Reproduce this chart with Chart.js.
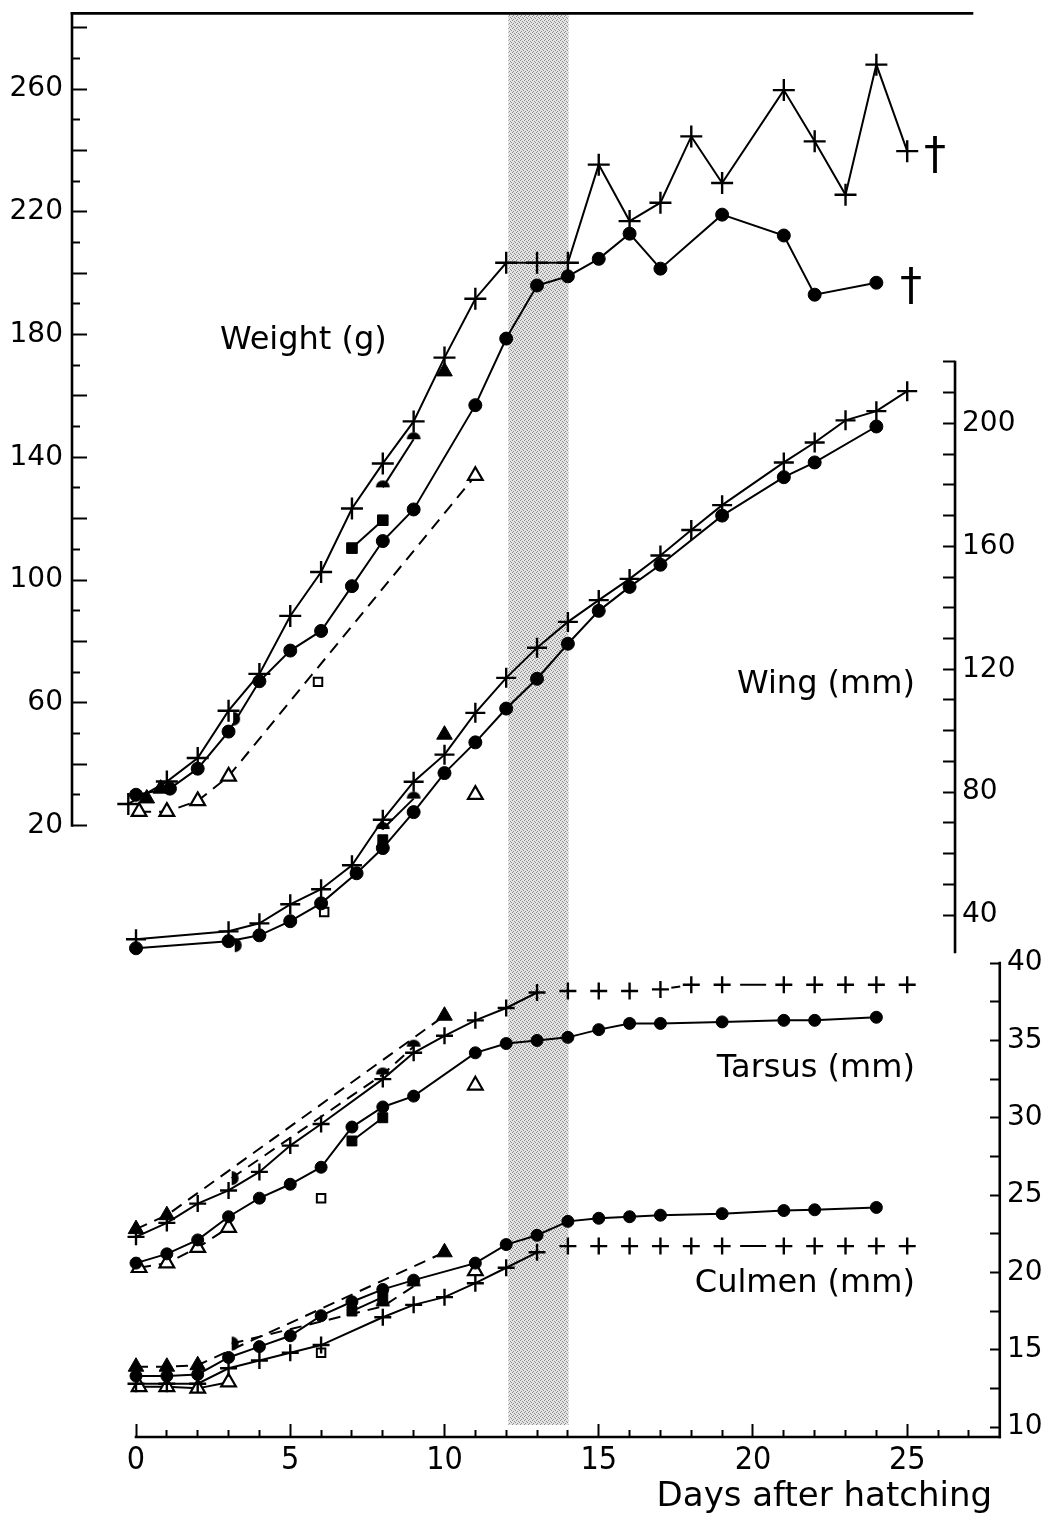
<!DOCTYPE html>
<html>
<head>
<meta charset="utf-8">
<title>Nestling growth</title>
<script src="https://cdn.jsdelivr.net/npm/chart.js@4.4.1/dist/chart.umd.min.js"></script>
<style>
  html, body { margin: 0; padding: 0; background: #fff; }
  #chart { display: block; }
</style>
</head>
<body>
<canvas id="chart" width="1042" height="1517"></canvas>
<script>
// ---- values (x = days after hatching) ----

// Weight (g)
const wPlusDays = [-0.25, 1, 2, 3, 4, 5, 6, 7, 8, 9, 10, 11, 12, 13, 14, 15, 16, 17, 18, 19, 21, 22, 23, 24, 25];
const wPlus     = [27, 34.3, 42, 57.4, 69.4, 88.3, 102.6, 123.3, 138, 151.7, 172.5, 191.7, 203.4, 203.4, 203.4, 235.4, 217, 223, 244.6, 229.4, 259.7, 243, 225.6, 268, 239.8];
const wDotDays  = [0, 1.1, 2, 3, 4, 5, 6, 7, 8, 9, 11, 12, 13, 14, 15, 16, 17, 19, 21, 22, 24];
const wDot      = [30, 32, 38.5, 50.6, 67, 77, 83.4, 98, 112.7, 123, 157, 178.7, 196, 199, 204.7, 212.9, 201.5, 219.1, 212.3, 193, 196.9];
const wTriDays  = [0.35, 0.8, 10];
const wTri      = [28.8, 32, 168];
const wHalfDays = [3.15, 8, 9];
const wHalf     = [54.8, 130.2, 145.9];
const wSqDays   = [7, 8];
const wSq       = [110.4, 119.5];
const wOTriDays = [0.1, 1, 2, 3, 11];
const wOTri     = [24.5, 24.5, 28, 36, 134];
const wOSqDays  = [5.9];
const wOSq      = [66.8];

// Wing (mm)
const gPlusDays = [0, 3, 4, 5, 6, 7, 8, 9, 10, 11, 12, 13, 14, 15, 16, 17, 18, 19, 21, 22, 23, 24, 25];
const gPlus     = [32.1, 34.7, 37.3, 43.5, 48.4, 56.2, 71, 83.4, 92.2, 105.8, 117.2, 127, 135.4, 142.5, 149.4, 157, 165.3, 173.4, 187.3, 193.8, 201, 204, 210.5];
const gDotDays  = [0, 3, 4, 5, 6, 7.15, 8, 9, 10, 11, 12, 13, 14, 15, 16, 17, 19, 21, 22, 24];
const gDot      = [29.2, 31.5, 33.4, 38, 43.8, 53.6, 61.8, 73.5, 86.2, 96.2, 107.2, 116.9, 128.3, 139, 146.8, 154, 170, 182.5, 187.3, 199];
const gTriDays  = [10];
const gTri      = [98.7];
const gHalfDays = [3.2, 8, 9];
const gHalf     = [30.2, 68, 77.9];
const gSqDays   = [8];
const gSq       = [64.5];
const gOTriDays = [11];
const gOTri     = [79.2];
const gOSqDays  = [6.1];
const gOSq      = [41];

// Tarsus (mm)
const tPlusDays = [0, 1, 2, 3, 4, 5, 6, 8, 9, 10, 11, 12, 13, 14, 15, 16, 17, 18, 19, 21, 22, 23, 24, 25];
const tPlus     = [22.3, 23.2, 24.45, 25.3, 26.5, 28.2, 29.6, 32.5, 34.2, 35.3, 36.3, 37.1, 38.1, 38.2, 38.2, 38.2, 38.3, 38.6, 38.6, 38.6, 38.6, 38.6, 38.6, 38.6];
const tDotDays  = [0, 1, 2, 3, 4, 5, 6, 7, 8, 9, 11, 12, 13, 14, 15, 16, 17, 19, 21, 22, 24];
const tDot      = [20.6, 21.2, 22.1, 23.6, 24.8, 25.7, 26.8, 29.4, 30.7, 31.4, 34.2, 34.8, 35, 35.2, 35.7, 36.1, 36.1, 36.2, 36.3, 36.3, 36.5];
const tTriDays  = [0, 1, 10];
const tTri      = [22.8, 23.7, 36.6];
const tHalfDays = [3.1, 8, 9];
const tHalf     = [26.1, 32.8, 34.6];
const tSqDays   = [7, 8];
const tSq       = [28.5, 30.0];
const tOTriDays = [0.1, 1, 2, 3, 11];
const tOTri     = [20.3, 20.6, 21.6, 22.9, 32.1];
const tOSqDays  = [6];
const tOSq      = [24.8];

// Culmen (mm)
const cPlusDays = [0, 1, 2, 3, 4, 5, 6, 8, 9, 10, 11, 12, 13, 14, 15, 16, 17, 18, 19, 21, 22, 23, 24, 25];
const cPlus     = [12.8, 12.8, 12.8, 13.8, 14.3, 14.8, 15.3, 17.1, 17.9, 18.4, 19.3, 20.3, 21.3, 21.7, 21.7, 21.7, 21.7, 21.7, 21.7, 21.7, 21.7, 21.7, 21.7, 21.7];
const cDotDays  = [0, 1, 2, 3, 4, 5, 6, 7, 8, 9, 11, 12, 13, 14, 15, 16, 17, 19, 21, 22, 24];
const cDot      = [13.3, 13.3, 13.4, 14.5, 15.2, 15.9, 17.2, 18.1, 18.9, 19.5, 20.6, 21.8, 22.4, 23.3, 23.5, 23.6, 23.7, 23.8, 24.0, 24.05, 24.2];
const cTriDays  = [0, 1, 2, 10];
const cTri      = [13.9, 13.9, 14.0, 21.3];
const cHalfDays = [3.1, 8, 9];
const cHalf     = [15.4, 17.8, 19.1];
const cSqDays   = [7, 8];
const cSq       = [17.5, 18.4];
const cOTriDays = [0.1, 1, 2, 3, 11];
const cOTri     = [12.6, 12.6, 12.5, 12.9, 20.1];
const cOSqDays  = [6];
const cOSq      = [14.8];

// shaded period and axis labels
const bandDays     = [12.07, 14.02];
const dayLabels    = [0, 5, 10, 15, 20, 25];
const weightLabels = [20, 60, 100, 140, 180, 220, 260];
const wingLabels   = [40, 80, 120, 160, 200];
const lengthLabels = [10, 15, 20, 25, 30, 35, 40];

// where the wing axis stands, in days
const WING_AXIS_AT = 26.55;

// ---- helpers ----
const SANS = "'DejaVu Sans', sans-serif";
const NARROW = "'DejaVu Sans Condensed', 'Liberation Sans Narrow', 'DejaVu Sans', sans-serif";

function range(a, b, step) {
  const out = [];
  for (let v = a; v <= b + 1e-9; v += step) out.push(Math.round(v * 100) / 100);
  return out;
}

// half filled discs: 'right' = ◗, 'top' = ◓
function halfDisc(side, r) {
  const c = document.createElement('canvas');
  c.width = c.height = 2 * r + 2;
  const g = c.getContext('2d');
  g.fillStyle = '#000';
  g.beginPath();
  if (side === 'right') g.arc(r + 1, r + 1, r, -Math.PI / 2, Math.PI / 2);
  else g.arc(r + 1, r + 1, r, Math.PI, 2 * Math.PI);
  g.closePath();
  g.fill();
  return c;
}

function marker(kind, size) {
  switch (kind) {
    case 'plus':  return {pointStyle: 'cross', pointRadius: size, pointBorderWidth: 2.4, pointBackgroundColor: '#000'};
    case 'dot':   return {pointStyle: 'circle', pointRadius: size, pointBorderWidth: 1, pointBackgroundColor: '#000'};
    case 'tri':   return {pointStyle: 'triangle', pointRadius: size, pointBorderWidth: 1, pointBackgroundColor: '#000'};
    case 'otri':  return {pointStyle: 'triangle', pointRadius: size, pointBorderWidth: 2.2, pointBackgroundColor: '#fff'};
    case 'sq':    return {pointStyle: 'rect', pointRadius: size, pointBorderWidth: 1, pointBackgroundColor: '#000'};
    case 'osq':   return {pointStyle: 'rect', pointRadius: size, pointBorderWidth: 2, pointBackgroundColor: '#fff'};
    case 'half':  return {pointStyle: [halfDisc('right', size), halfDisc('top', size), halfDisc('top', size)], pointRadius: size, pointBorderWidth: 0, pointBackgroundColor: '#000'};
  }
}

// line: {show, dash, gap (hide segments longer than gap days), late (plus series after day 13)}
function series(days, values, axis, kind, size, line) {
  line = line || {};
  const lateDash = c => {
    const x0 = c.p0.parsed.x, x1 = c.p1.parsed.x;
    if (x0 === 19 && x1 === 21) return [0, 18, 26, 100];
    if (line.late === 'tarsus' && x0 === 17 && x1 === 18) return [0, 11, 9, 100];
    return null;
  };
  const hidden = c => {
    const x0 = c.p0.parsed.x, x1 = c.p1.parsed.x;
    if (line.gap && x1 - x0 > line.gap) return true;
    if (line.late && x0 >= 13 && !lateDash(c)) return true;
    return false;
  };
  return Object.assign({
    data: days.map((d, i) => ({x: d, y: values[i]})),
    yAxisID: axis,
    showLine: !!line.show,
    borderColor: '#000',
    borderWidth: 2,
    borderDash: line.dash ? [12, 8] : [],
    pointBorderColor: '#000',
    pointHoverRadius: size,
    fill: false,
    tension: 0,
    segment: {
      borderColor: c => hidden(c) ? 'rgba(0,0,0,0)' : undefined,
      borderDash: c => (line.late && c.p0.parsed.x >= 13 && lateDash(c)) || undefined
    }
  }, marker(kind, size));
}

const datasets = [
  // weight
  series(wPlusDays, wPlus, 'yW', 'plus', 11, {show: true}),
  series(wDotDays, wDot, 'yW', 'dot', 6.5, {show: true}),
  series(wTriDays, wTri, 'yW', 'tri', 9),
  series(wHalfDays, wHalf, 'yW', 'half', 7, {show: true, gap: 3}),
  series(wSqDays, wSq, 'yW', 'sq', 7.5, {show: true}),
  series(wOTriDays, wOTri, 'yW', 'otri', 8.5, {show: true, dash: true}),
  series(wOSqDays, wOSq, 'yW', 'osq', 6),
  // wing
  series(gPlusDays, gPlus, 'yWing', 'plus', 10, {show: true}),
  series(gDotDays, gDot, 'yWing', 'dot', 6.5, {show: true}),
  series(gTriDays, gTri, 'yWing', 'tri', 9),
  series(gHalfDays, gHalf, 'yWing', 'half', 7, {show: true, gap: 3}),
  series(gSqDays, gSq, 'yWing', 'sq', 7),
  series(gOTriDays, gOTri, 'yWing', 'otri', 8.5),
  series(gOSqDays, gOSq, 'yWing', 'osq', 6),
  // tarsus
  series(tPlusDays, tPlus, 'yT', 'plus', 8.5, {show: true, late: 'tarsus'}),
  series(tDotDays, tDot, 'yT', 'dot', 6, {show: true}),
  series(tTriDays, tTri, 'yT', 'tri', 9, {show: true, dash: true}),
  series(tHalfDays, tHalf, 'yT', 'half', 7, {show: true, dash: true}),
  series(tSqDays, tSq, 'yT', 'sq', 7, {show: true}),
  series(tOTriDays, tOTri, 'yT', 'otri', 8.5, {show: true, dash: true, gap: 3}),
  series(tOSqDays, tOSq, 'yT', 'osq', 6),
  // culmen
  series(cPlusDays, cPlus, 'yT', 'plus', 8.5, {show: true, late: 'culmen'}),
  series(cDotDays, cDot, 'yT', 'dot', 6, {show: true}),
  series(cTriDays, cTri, 'yT', 'tri', 9, {show: true, dash: true}),
  series(cHalfDays, cHalf, 'yT', 'half', 7, {show: true, dash: true}),
  series(cSqDays, cSq, 'yT', 'sq', 7, {show: true}),
  series(cOTriDays, cOTri, 'yT', 'otri', 8.5, {show: true, gap: 3}),
  series(cOSqDays, cOSq, 'yT', 'osq', 6)
];

// stippled fill for the shaded period
function stipple() {
  const t = document.createElement('canvas');
  t.width = t.height = 4;
  const g = t.getContext('2d');
  g.fillStyle = '#e4e4e4';
  g.fillRect(0, 0, 4, 4);
  g.fillStyle = '#8c8c8c';
  [[0, 0], [2, 1], [1, 3], [3, 2]].forEach(p => g.fillRect(p[0], p[1], 1, 1));
  return document.getElementById('chart').getContext('2d').createPattern(t, 'repeat');
}

const decor = {
  id: 'decor',
  afterLayout(chart) {
    // the wing axis stands inside the frame; move its box there and widen it so labels are not clipped
    const s = chart.scales.yWing;
    s.left = chart.scales.x.getPixelForValue(WING_AXIS_AT);
    s.right = chart.width;
    s.width = s.right - s.left;
  },
  beforeDatasetsDraw(chart) {
    const {ctx, chartArea, scales: {x}} = chart;
    const x0 = x.getPixelForValue(bandDays[0]);
    const x1 = x.getPixelForValue(bandDays[1]);
    ctx.save();
    ctx.fillStyle = stipple();
    ctx.fillRect(x0, chartArea.top, x1 - x0, chartArea.bottom - 12 - chartArea.top);
    ctx.restore();
  },
  afterDraw(chart) {
    const {ctx, chartArea, scales: {x, yW, yWing, yT}} = chart;
    ctx.save();
    ctx.strokeStyle = '#000';
    ctx.lineWidth = 2.6;
    ctx.lineCap = 'square';
    const seg = (ax, ay, bx, by) => { ctx.beginPath(); ctx.moveTo(ax, ay); ctx.lineTo(bx, by); ctx.stroke(); };
    const xEnd = x.getPixelForValue(28);
    const xWing = yWing.left;
    // frame top and weight axis
    seg(chartArea.left, chartArea.top, chartArea.right, chartArea.top);
    seg(chartArea.left, chartArea.top, chartArea.left, yW.getPixelForValue(20));
    // wing axis
    seg(xWing, yWing.getPixelForValue(220), xWing, yWing.getPixelForValue(28));
    // tarsus / culmen axis
    seg(xEnd, yT.getPixelForValue(40), xEnd, chartArea.bottom);
    // day axis
    seg(x.getPixelForValue(0), chartArea.bottom, xEnd, chartArea.bottom);

    // captions
    ctx.fillStyle = '#000';
    ctx.textBaseline = 'middle';
    ctx.font = '32px ' + SANS;
    ctx.textAlign = 'left';
    ctx.fillText('Weight (g)', x.getPixelForValue(2.72), yW.getPixelForValue(178));
    ctx.textAlign = 'right';
    ctx.fillText('Wing (mm)', x.getPixelForValue(25.25), yWing.getPixelForValue(115));
    ctx.fillText('Tarsus (mm)', x.getPixelForValue(25.25), yT.getPixelForValue(33.2));
    ctx.fillText('Culmen (mm)', x.getPixelForValue(25.25), yT.getPixelForValue(19.3));
    ctx.font = '34px ' + SANS;
    ctx.fillText('Days after hatching', x.getPixelForValue(27.75), chartArea.bottom + 60);
    // deaths
    ctx.textAlign = 'center';
    ctx.font = '44px ' + SANS;
    ctx.fillText('\u2020', x.getPixelForValue(25.9), yW.getPixelForValue(237.6));
    ctx.fillText('\u2020', x.getPixelForValue(25.12), yW.getPixelForValue(195));
    ctx.restore();
  }
};

function yScale(cfg) {
  return {
    type: 'linear',
    position: cfg.position,
    weight: cfg.weight || 0,
    min: cfg.min,
    max: cfg.max,
    bounds: 'data',
    afterBuildTicks: s => { s.ticks = cfg.ticks.map(v => ({value: v})); },
    afterFit: s => { s.width = cfg.width; s.paddingTop = 0; s.paddingBottom = 0; },
    border: {display: false},
    grid: {
      drawOnChartArea: false,
      tickLength: cfg.tickLength,
      tickWidth: 2,
      tickColor: '#000',
      tickBorderDash: c => (c.tick && cfg.dash) ? cfg.dash(c.tick.value) : []
    },
    ticks: {
      autoSkip: false,
      padding: cfg.padding,
      color: '#000',
      font: {size: 28, family: SANS},
      callback: v => cfg.labels.includes(v) ? String(v) : ''
    }
  };
}

new Chart(document.getElementById('chart'), {
  type: 'line',
  data: {datasets},
  options: {
    responsive: false,
    animation: false,
    devicePixelRatio: 1,
    layout: {padding: {top: 10, left: 0, right: 0, bottom: 0}},
    plugins: {legend: {display: false}, tooltip: {enabled: false}},
    scales: {
      x: {
        type: 'linear',
        position: 'bottom',
        min: -2.075,
        max: 27.1,
        bounds: 'data',
        afterBuildTicks: s => { s.ticks = range(0, 27, 1).map(v => ({value: v})); },
        afterFit: s => { s.height = 80; s.paddingLeft = 0; s.paddingRight = 0; },
        border: {display: false},
        grid: {
          drawOnChartArea: false,
          tickLength: -13,
          tickWidth: 2,
          tickColor: '#000',
          tickBorderDash: c => (c.tick && !dayLabels.includes(c.tick.value)) ? [7, 100] : []
        },
        ticks: {
          autoSkip: false,
          maxRotation: 0,
          padding: 17,
          color: '#000',
          font: {size: 32, family: NARROW},
          callback: v => dayLabels.includes(v) ? String(v) : ''
        }
      },
      yW: yScale({
        position: 'left', width: 72, min: -179.35, max: 284.7,
        ticks: range(20, 280, 10), labels: weightLabels,
        tickLength: -15, padding: 24,
        dash: v => (v % 20 === 0) ? [] : [0, 7, 8, 100]
      }),
      yWing: yScale({
        position: 'right', weight: 0, width: 0, min: -129.87, max: 333.44,
        ticks: range(40, 220, 10), labels: wingLabels,
        tickLength: -12, padding: 19
      }),
      yT: yScale({
        position: 'right', weight: 1, width: 70, min: 9.355, max: 101.42,
        ticks: range(10, 40, 2.5), labels: lengthLabels,
        tickLength: 28, padding: 7,
        dash: () => [0, 18, 10, 100]
      })
    }
  },
  plugins: [decor]
});
</script>
</body>
</html>
